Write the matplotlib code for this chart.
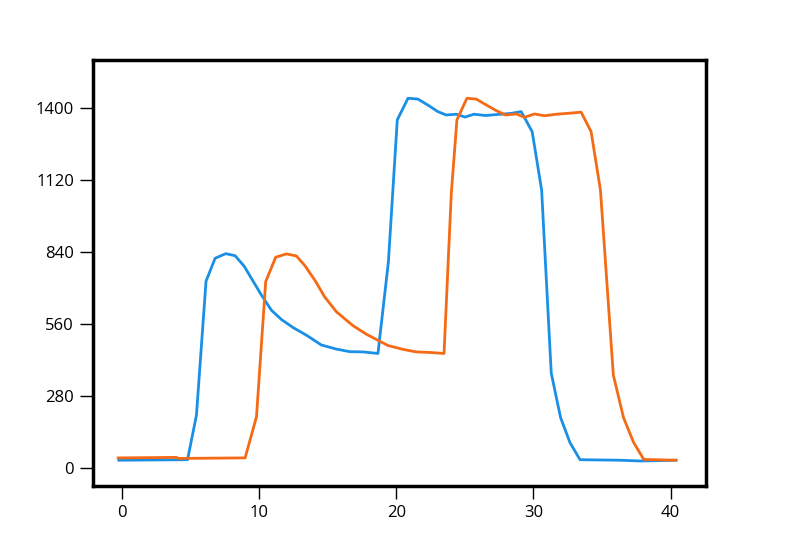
# duas series deslocadas
import matplotlib.pyplot as plt

plt.rcParams["font.family"] = ["Open Sans", "DejaVu Sans"]

# serie azul
x_azul = [-0.24, 4.77, 5.42, 6.12, 6.78, 7.56, 8.24, 8.89, 9.43, 10.16, 10.89,
          11.62, 12.46, 13.44, 14.53, 15.63, 16.6, 17.57, 18.66, 19.42, 20.07,
          20.85, 21.57, 22.35, 23.03, 23.64, 24.37, 25.01, 25.67, 26.51, 27.38,
          28.33, 29.11, 29.91, 30.6, 31.3, 31.98, 32.67, 33.4, 36.28, 37.8, 40.4]
y_azul = [32, 34, 207, 728, 817, 835, 827, 787, 739, 674, 615,
          579, 548, 518, 480, 464, 454, 453, 447, 802, 1355,
          1439, 1436, 1411, 1387, 1374, 1377, 1366, 1377, 1372, 1376,
          1380, 1387, 1309, 1082, 371, 198, 100, 34, 32, 29, 32]

# serie laranja
x_laranja = [-0.29, 3.97, 4.08, 8.97, 9.8, 10.47, 11.2, 11.98, 12.71, 13.32, 14.08,
             14.77, 15.63, 16.84, 17.81, 18.78, 19.39, 20.48, 21.46, 22.43, 23.48,
             24.01, 24.42, 25.15, 25.83, 26.56, 27.29, 27.97, 28.75, 29.35, 30.08,
             30.81, 31.66, 32.63, 33.48, 34.21, 34.89, 35.83, 36.57, 37.3, 38.05, 40.41]
y_laranja = [41, 43, 39, 41, 201, 726, 821, 834, 826, 789, 730,
             667, 609, 555, 522, 495, 478, 463, 453, 451, 447,
             1069, 1355, 1439, 1436, 1413, 1391, 1374, 1378, 1365, 1378,
             1371, 1377, 1381, 1385, 1309, 1082, 363, 198, 102, 35, 32]

yticks = [0, 280, 560, 840, 1120, 1400]
xticks = [0, 10, 20, 30, 40]

fig = plt.figure(figsize=(8, 5.5), dpi=100)
ax = fig.add_axes([0.116, 0.116, 0.766, 0.775])

ax.plot(x_azul, y_azul, color="#1a8fe6", linewidth=2)
ax.plot(x_laranja, y_laranja, color="#f56a14", linewidth=2)

ax.set_xlim(-2.14, 42.56)
ax.set_ylim(-69, 1588)
ax.set_xticks(xticks)
ax.set_yticks(yticks)
ax.tick_params(length=9.5, width=1, pad=4, labelsize=12)

for s in ax.spines.values():
    s.set_linewidth(2.5)
    s.set_color("black")

plt.savefig("out.png", dpi=100)
